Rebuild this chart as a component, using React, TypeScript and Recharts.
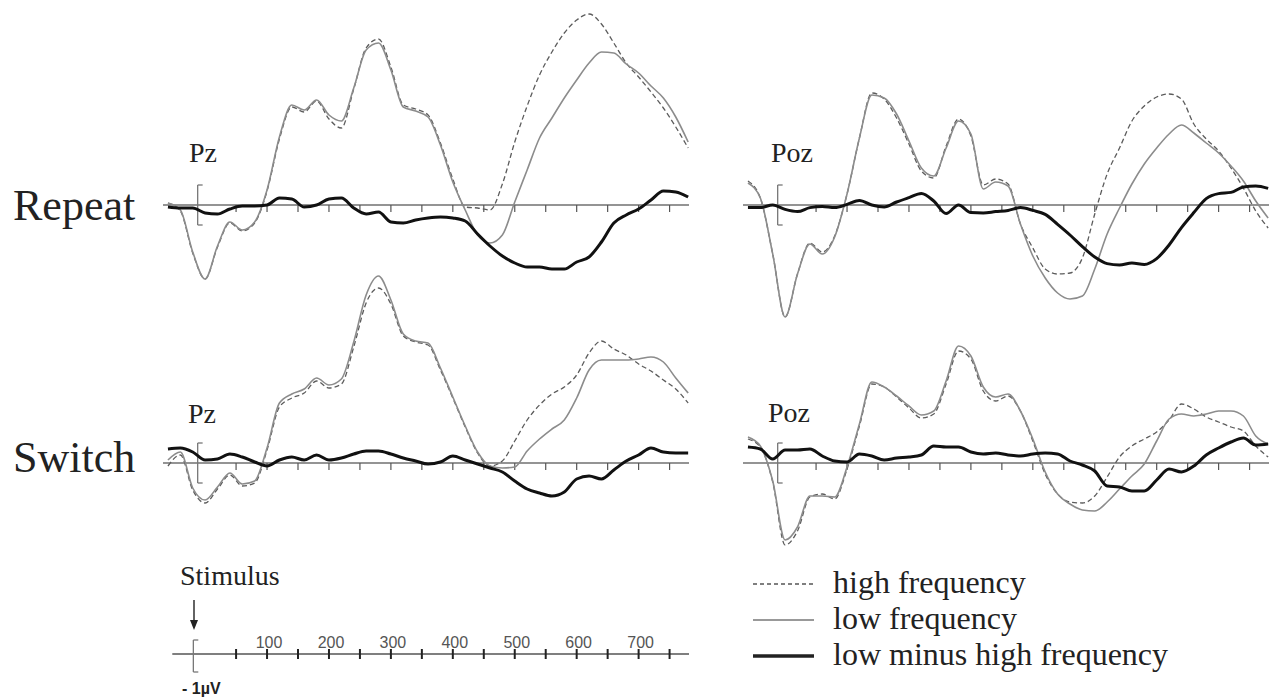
import { LineChart, Line, XAxis, YAxis, ReferenceLine } from "recharts";

// time points (ms) shared by every trace
const TIMES = [
  -60, -40, -20, 0, 20, 40, 60, 80, 100, 120, 140, 160, 180, 200, 220, 240, 260, 280, 300, 320, 340, 360,
  380, 400, 420, 440, 460, 480, 500, 520, 540, 560, 580, 600, 620, 640, 660, 680, 700, 720, 740, 760, 780,
];

// amplitudes in µV
const REPEAT_PZ_HIGH = [
  0.1, -0.3, -2.4, -3.7, -2.1, -0.9, -1.3, -0.9, 0.7, 3.3, 4.9, 4.65, 5.2, 4.3, 3.85, 5.8, 7.85, 8.3, 6.9, 5.0, 4.8, 4.5,
  3.1, 1.3, -0.1, -0.15, -0.25, 1.05, 3.15, 4.95, 6.5, 7.65, 8.6, 9.25, 9.55, 9.05, 8.1, 7.1, 6.4, 5.65, 4.85, 3.9, 2.85,
];
const REPEAT_PZ_LOW = [
  0.1, -0.25, -2.35, -3.7, -2.05, -0.85, -1.25, -0.85, 0.75, 3.4, 5.0, 4.75, 5.25, 4.5, 4.2, 5.85, 7.75, 8.1, 6.75, 4.9,
  4.7, 4.4, 3.0, 1.15, -0.25, -1.5, -1.9, -1.5, 0.15, 1.75, 3.35, 4.35, 5.35, 6.25, 7.1, 7.65, 7.6, 7.05, 6.6, 5.95, 5.35,
  4.4, 3.15,
];
const REPEAT_PZ_DIFF = [
  -0.1, -0.15, -0.15, -0.4, -0.45, -0.2, -0.05, -0.05, 0, 0.35, 0.3, -0.1, 0, 0.3, 0.35, -0.15, -0.45, -0.35, -0.85, -0.9,
  -0.75, -0.65, -0.6, -0.65, -0.8, -1.45, -2.05, -2.55, -2.9, -3.1, -3.1, -3.2, -3.2, -2.85, -2.6, -1.85, -0.9, -0.5, -0.2,
  0.25, 0.7, 0.65, 0.4,
];

const REPEAT_POZ_HIGH = [
  1.2, 0.35, -2.45, -5.6, -3.45, -1.9, -2.35, -1.55, 0.55, 3.35, 5.6, 5.3, 4.35, 3.05, 1.7, 1.35, 2.95, 4.3, 3.45, 1.0,
  1.3, 1.05, -0.95, -2.15, -3.2, -3.45, -3.4, -2.65, -0.45, 1.55, 2.85, 4.2, 4.95, 5.4, 5.55, 5.3, 4.05, 3.3, 2.7, 1.85,
  0.85, -0.3, -1.15,
];
const REPEAT_POZ_LOW = [
  1.1, 0.35, -2.45, -5.6, -3.45, -1.95, -2.45, -1.6, 0.55, 3.35, 5.5, 5.35, 4.55, 3.2, 1.85, 1.45, 2.85, 4.2, 3.55, 0.8,
  1.15, 0.95, -0.95, -2.55, -3.65, -4.4, -4.7, -4.55, -3.2, -1.45, -0.15, 1.05, 2.05, 2.85, 3.55, 4.0, 3.6, 3.1, 2.6, 1.95,
  1.2, 0.2, -0.65,
];
const REPEAT_POZ_DIFF = [
  -0.13, -0.13, 0, -0.22, -0.33, -0.13, -0.07, -0.13, 0.03, 0.23, 0, -0.1, 0.15, 0.37, 0.58, 0.2, -0.43, 0, -0.38, -0.4,
  -0.33, -0.27, -0.13, -0.27, -0.47, -0.97, -1.5, -2.08, -2.6, -2.93, -3.0, -2.9, -2.97, -2.68, -2.0, -1.13, -0.38, 0.32,
  0.57, 0.63, 0.9, 0.95, 0.83,
];

const SWITCH_PZ_HIGH = [
  -0.15, 0.4, -1.35, -2.0, -1.3, -0.6, -1.15, -1.0, 0.65, 2.8, 3.25, 3.5, 4.1, 3.75, 3.95, 5.8, 8.0, 8.75, 7.95, 6.35,
  6.05, 5.9, 4.65, 3.25, 1.8, 0.5, -0.15, 0.1, 1.1, 2.15, 2.9, 3.45, 3.8, 4.4, 5.5, 6.1, 5.7, 5.4, 4.95, 4.6, 4.15, 3.7,
  3.0,
];
const SWITCH_PZ_LOW = [
  0.15, 0.55, -1.25, -1.85, -1.2, -0.5, -1.05, -0.9, 0.75, 3.0, 3.45, 3.7, 4.25, 3.9, 4.2, 6.05, 8.4, 9.35, 8.15, 6.45,
  6.1, 6.0, 4.75, 3.3, 1.85, 0.55, -0.15, -0.25, -0.2, 0.6, 1.2, 1.7, 2.15, 3.25, 4.65, 5.15, 5.15, 5.15, 5.2, 5.3, 5.05,
  4.25, 3.5,
];
const SWITCH_PZ_DIFF = [
  0.7, 0.75, 0.55, 0.15, 0.2, 0.45, 0.3, 0.05, -0.15, 0.15, 0.3, 0.15, 0.4, 0.15, 0.25, 0.45, 0.6, 0.6, 0.45, 0.25, 0.1,
  -0.05, 0.05, 0.35, 0.15, -0.05, -0.25, -0.45, -0.9, -1.3, -1.5, -1.65, -1.45, -0.8, -0.65, -0.8, -0.35, 0.1, 0.4, 0.75,
  0.55, 0.5, 0.5,
];

const SWITCH_POZ_HIGH = [
  1.2, 0.8, -0.95, -4.1, -3.4, -1.7, -1.55, -1.8, -0.3, 1.85, 3.95, 3.8, 3.3, 2.75, 2.25, 2.45, 3.95, 5.6, 5.2, 3.6, 3.1,
  3.35, 2.6, 1.1, -0.55, -1.55, -1.95, -2.0, -1.65, -0.7, 0.3, 0.85, 1.2, 1.55, 2.15, 2.95, 2.7, 2.3, 2.05, 1.8, 1.6,
  0.85, 0.3,
];
const SWITCH_POZ_LOW = [
  1.3, 0.85, -0.9, -3.85, -3.2, -1.65, -1.65, -1.7, -0.2, 1.95, 4.05, 3.8, 3.35, 2.85, 2.4, 2.6, 4.1, 5.85, 5.35, 3.8,
  3.3, 3.45, 2.6, 1.2, -0.45, -1.55, -2.05, -2.35, -2.4, -1.95, -1.3, -0.65, -0.05, 1.1, 2.2, 2.45, 2.35, 2.45, 2.6, 2.6,
  2.35, 1.35, 0.95,
];
const SWITCH_POZ_DIFF = [
  0.8, 0.7, 0.2, 0.65, 0.65, 0.7, 0.35, 0.1, 0.05, 0.45, 0.35, 0.15, 0.25, 0.3, 0.4, 0.85, 0.8, 0.8, 0.55, 0.45, 0.5, 0.4,
  0.35, 0.45, 0.5, 0.45, 0.1, -0.1, -0.4, -1.15, -1.2, -1.4, -1.4, -0.85, -0.3, -0.45, -0.15, 0.4, 0.75, 1.05, 1.25, 0.9,
  0.95,
];

const PANEL_TICKS = [50, 100, 150, 200, 250, 300, 350, 400, 450, 500, 550, 600, 650, 700, 750];
const SCALE_LABELS = ["100", "200", "300", "400", "500", "600", "700"];

const LEGEND = ["high frequency", "low frequency", "low minus high frequency"];

const X_DOMAIN: [number, number] = [-68, 782];
const PANEL_W = 526.4;
const SERIF = '"Liberation Serif", "Times New Roman", serif';
const SANS = '"Liberation Sans", Arial, sans-serif';
const NO_MARGIN = { top: 0, right: 0, bottom: 0, left: 0 };

function bracket(x: number, top: number, bottom: number, color: string) {
  return [
    <ReferenceLine key="bv" segment={[{ x, y: top }, { x, y: bottom }]} stroke={color} strokeWidth={1.3} />,
    <ReferenceLine key="bt" segment={[{ x, y: top }, { x: x + 8, y: top }]} stroke={color} strokeWidth={1.3} />,
    <ReferenceLine key="bb" segment={[{ x, y: bottom }, { x: x + 8, y: bottom }]} stroke={color} strokeWidth={1.3} />,
  ];
}

function ErpPanel({
  left,
  top,
  height,
  yDomain,
  high,
  low,
  diff,
}: {
  left: number;
  top: number;
  height: number;
  yDomain: [number, number];
  high: number[];
  low: number[];
  diff: number[];
}) {
  const rows = TIMES.map((t, i) => ({ t, high: high[i], low: low[i], diff: diff[i] }));
  return (
    <div style={{ position: "absolute", left, top }}>
      <LineChart width={PANEL_W} height={height} data={rows} margin={NO_MARGIN}>
        <XAxis type="number" dataKey="t" domain={X_DOMAIN} hide />
        <YAxis type="number" domain={yDomain} hide />
        <ReferenceLine y={0} stroke="#707070" strokeWidth={1.3} />
        {PANEL_TICKS.map((t) => (
          <ReferenceLine key={t} segment={[{ x: t, y: 0 }, { x: t, y: -0.35 }]} stroke="#555" strokeWidth={1.2} />
        ))}
        {bracket(-12, 1, -1, "#777")}
        <Line
          type="monotone"
          dataKey="high"
          stroke="#5c5c5c"
          strokeWidth={1.3}
          strokeDasharray="5 3"
          dot={false}
          isAnimationActive={false}
        />
        <Line type="monotone" dataKey="low" stroke="#8c8c8c" strokeWidth={1.6} dot={false} isAnimationActive={false} />
        <Line type="monotone" dataKey="diff" stroke="#111" strokeWidth={3} dot={false} isAnimationActive={false} />
      </LineChart>
    </div>
  );
}

// stand-alone time axis with the -1µV calibration bracket
function TimeScale() {
  const rows = TIMES.map((t) => ({ t, base: 0 }));
  return (
    <div style={{ position: "absolute", left: 162.7, top: 624 }}>
      <LineChart width={PANEL_W} height={60} data={rows} margin={NO_MARGIN}>
        <XAxis type="number" dataKey="t" domain={X_DOMAIN} hide />
        <YAxis type="number" domain={[-1.5, 1.5]} hide />
        <Line dataKey="base" stroke="transparent" dot={false} isAnimationActive={false} />
        <ReferenceLine segment={[{ x: -53, y: 0 }, { x: 782, y: 0 }]} stroke="#555" strokeWidth={1.3} />
        {PANEL_TICKS.map((t) => {
          const lbl = SCALE_LABELS.find((s) => Number(s) === t);
          return (
            <ReferenceLine
              key={t}
              segment={[{ x: t, y: 0.25 }, { x: t, y: -0.25 }]}
              stroke="#222"
              strokeWidth={2}
              label={
                lbl
                  ? { value: lbl, position: "top", offset: 1, fill: "#555", fontSize: 16, fontFamily: SANS, dx: 2 }
                  : undefined
              }
            />
          );
        })}
        {bracket(-19, 0.7, -0.9, "#777")}
      </LineChart>
    </div>
  );
}

export default function App() {
  return (
    <div
      style={{
        position: "absolute",
        left: 0,
        top: 0,
        width: 1280,
        height: 698,
        background: "#fff",
        overflow: "hidden",
      }}
    >
      <ErpPanel left={162.7} top={1} height={324} yDomain={[-6, 10.2]} high={REPEAT_PZ_HIGH} low={REPEAT_PZ_LOW} diff={REPEAT_PZ_DIFF} />
      <ErpPanel left={742.7} top={1} height={324} yDomain={[-6, 10.2]} high={REPEAT_POZ_HIGH} low={REPEAT_POZ_LOW} diff={REPEAT_POZ_DIFF} />
      <ErpPanel left={162.7} top={263} height={290} yDomain={[-4.5, 10]} high={SWITCH_PZ_HIGH} low={SWITCH_PZ_LOW} diff={SWITCH_PZ_DIFF} />
      <ErpPanel left={742.7} top={263} height={290} yDomain={[-4.5, 10]} high={SWITCH_POZ_HIGH} low={SWITCH_POZ_LOW} diff={SWITCH_POZ_DIFF} />
      <TimeScale />

      <svg width={1280} height={698} style={{ position: "absolute", left: 0, top: 0, pointerEvents: "none" }}>
        <g fontFamily={SERIF} fill="#222">
          <text x={13} y={220} fontSize={44}>Repeat</text>
          <text x={13} y={472} fontSize={44}>Switch</text>
          <text x={189} y={162} fontSize={28}>Pz</text>
          <text x={771} y={162} fontSize={28}>Poz</text>
          <text x={188} y={423} fontSize={28}>Pz</text>
          <text x={768} y={422} fontSize={28}>Poz</text>
          <text x={180} y={585} fontSize={28}>Stimulus</text>
        </g>
        <line x1={194} y1={600} x2={194} y2={622} stroke="#222" strokeWidth={1.4} />
        <polygon points="190,620 198,620 194,630" fill="#222" />
        <text x={182} y={694} fontSize={16} fontWeight="bold" fontFamily={SANS} fill="#222">
          - 1µV
        </text>

        <line x1={753} y1={584} x2={814} y2={584} stroke="#555" strokeWidth={1.3} strokeDasharray="4 3" />
        <line x1={753} y1={620} x2={814} y2={620} stroke="#999" strokeWidth={2} />
        <line x1={753} y1={656} x2={814} y2={656} stroke="#222" strokeWidth={3.5} />
        <g fontFamily={SERIF} fill="#222" fontSize={32}>
          {LEGEND.map((s, i) => (
            <text key={s} x={833} y={593 + i * 36}>
              {s}
            </text>
          ))}
        </g>
      </svg>
    </div>
  );
}
